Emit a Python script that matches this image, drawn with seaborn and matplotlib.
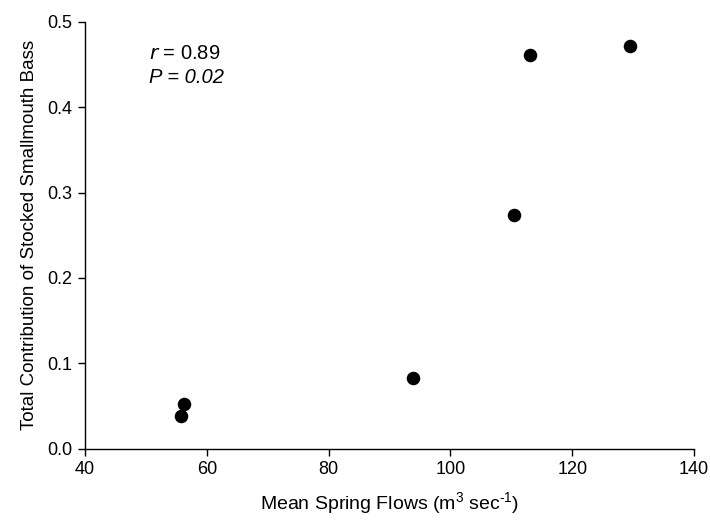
import matplotlib
matplotlib.use("Agg")
import matplotlib.pyplot as plt
import seaborn as sns
import pandas as pd

flows = [55.8, 56.3, 93.9, 110.5, 113.1, 129.5]
contribution = [0.038, 0.052, 0.083, 0.274, 0.461, 0.472]
x_ticks = [40, 60, 80, 100, 120, 140]
y_ticks = [0.0, 0.1, 0.2, 0.3, 0.4, 0.5]

sns.set_style("ticks")
plt.rcParams['font.family'] = ['Liberation Sans', 'DejaVu Sans']
plt.rcParams['mathtext.default'] = 'regular'
plt.rcParams['text.color'] = 'black'
plt.rcParams['axes.labelcolor'] = 'black'

df = pd.DataFrame({"flow": flows, "contrib": contribution})

fig = plt.figure(figsize=(7.1, 5.2), dpi=100)
ax = fig.add_axes([0.1197, 0.1375, 0.8578, 0.8202])
sns.scatterplot(data=df, x="flow", y="contrib", ax=ax, color="black",
                s=95, edgecolor="black", linewidth=0, zorder=3)

ax.set_xlim(40, 140)
ax.set_ylim(0, 0.5)
ax.set_xticks(x_ticks)
ax.set_yticks(y_ticks)
ax.set_xticklabels([str(t) for t in x_ticks])
ax.set_yticklabels([f"{t:.1f}" for t in y_ticks])
for s in ["top", "right"]:
    ax.spines[s].set_visible(False)
for s in ["left", "bottom"]:
    ax.spines[s].set_color("black")
    ax.spines[s].set_linewidth(1.0)
ax.tick_params(axis="both", direction="out", length=5, width=1.0,
               colors="black", labelcolor="black", labelsize=13, pad=4)
ax.set_xlabel("Mean Spring Flows (m$^3$ sec$^{\u2010 1}$)", fontsize=14, labelpad=9)
ax.set_ylabel("Total Contribution of Stocked Smallmouth Bass", fontsize=13.5, labelpad=7)

ax.text(0.105, 0.948, "$\\it{r}$ = 0.89", transform=ax.transAxes,
        fontsize=14.5, va="top", ha="left")
ax.text(0.105, 0.893, "P = 0.02", transform=ax.transAxes,
        fontsize=14.5, va="top", ha="left", style="italic")

fig.savefig("out.png", dpi=100)
